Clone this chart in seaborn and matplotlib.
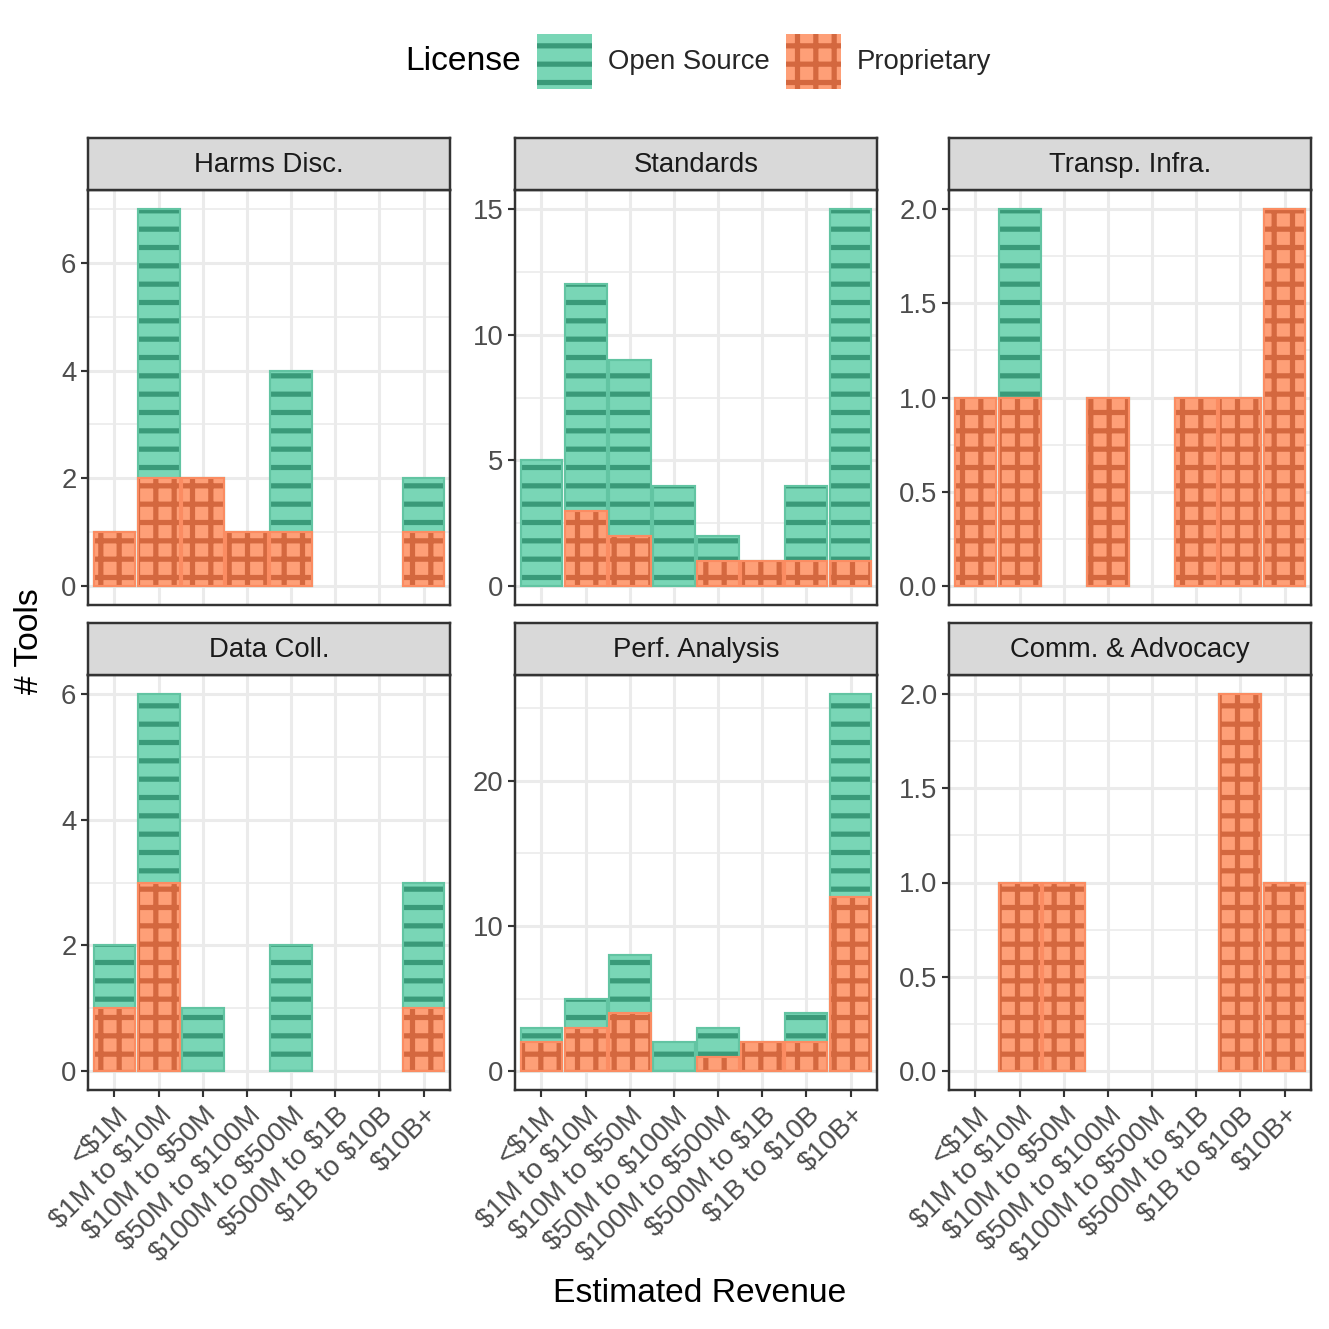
import numpy as np
import pandas as pd
import matplotlib
matplotlib.use("Agg")
import matplotlib.pyplot as plt
import matplotlib.patches as mpatches
from matplotlib.ticker import MultipleLocator, AutoMinorLocator, FormatStrFormatter
import seaborn as sns

# ------------------------------------------------------------
# DATA  (counts; stacked Proprietary + Open Source)
# ------------------------------------------------------------
REVENUE = ["<$1M", "$1M to $10M", "$10M to $50M", "$50M to $100M",
           "$100M to $500M", "$500M to $1B", "$1B to $10B", "$10B+"]

FACETS = ["Harms Disc.", "Standards", "Transp. Infra.",
          "Data Coll.", "Perf. Analysis", "Comm. & Advocacy"]

harms_os = [0, 5, 0, 0, 3, 0, 0, 1]
harms_prop = [1, 2, 2, 1, 1, 0, 0, 1]

standards_os = [5, 9, 7, 4, 1, 0, 3, 14]
standards_prop = [0, 3, 2, 0, 1, 1, 1, 1]

transp_os = [0, 1, 0, 0, 0, 0, 0, 0]
transp_prop = [1, 1, 0, 1, 0, 1, 1, 2]

datacoll_os = [1, 3, 1, 0, 2, 0, 0, 2]
datacoll_prop = [1, 3, 0, 0, 0, 0, 0, 1]

perf_os = [1, 2, 4, 2, 2, 0, 2, 14]
perf_prop = [2, 3, 4, 0, 1, 2, 2, 12]

comm_os = [0, 0, 0, 0, 0, 0, 0, 0]
comm_prop = [0, 1, 1, 0, 0, 0, 2, 1]

Y_STEPS = [2, 5, 0.5, 2, 10, 0.5]

# ------------------------------------------------------------
# STYLE
# ------------------------------------------------------------
OS_FILL, OS_EDGE, OS_HATCH = "#79D6B6", "#62C4A2", "#3A9A79"
PR_FILL, PR_EDGE, PR_HATCH = "#FE9F77", "#FB8C62", "#D4683F"
GRID = "#EBEBEB"
DARK = "#333333"
SMALL = 18
TITLE = 22

sns.set_style("white")
plt.rcParams["font.family"] = ["Liberation Sans", "DejaVu Sans"]
plt.rcParams["hatch.linewidth"] = 3.4

W = H = 1329
DPI = 110
COL_LEFT = [88, 515, 949]
ROW_TOP = [138, 623]
PANEL_W = 362
STRIP_H = 52
PANEL_H = 415
BAR_W = 0.95


def px_rect(left, top, width, height):
    return [left / W, 1 - (top + height) / H, width / W, height / H]


def style_bars(ax, bars, edge, hatch_col, hatch, z):
    for bar in bars:
        if bar.get_height() <= 0:
            bar.set_visible(False)
            continue
        bar.set_hatch(hatch)
        bar.set_edgecolor(hatch_col)
        bar.set_linewidth(0)
        bar.set_zorder(z)
        ax.add_patch(mpatches.Rectangle(
            bar.get_xy(), bar.get_width(), bar.get_height(),
            fill=False, edgecolor=edge, linewidth=1.4, zorder=z + 0.5))


fig = plt.figure(figsize=(W / DPI, H / DPI), dpi=DPI)

panels = list(zip(
    FACETS,
    [harms_os, standards_os, transp_os, datacoll_os, perf_os, comm_os],
    [harms_prop, standards_prop, transp_prop, datacoll_prop, perf_prop, comm_prop],
    Y_STEPS,
))

tick_labels = [c.replace("$", r"\$") for c in REVENUE]

for i, (name, os_vals, prop_vals, step) in enumerate(panels):
    row, col = divmod(i, 3)
    left, top = COL_LEFT[col], ROW_TOP[row]

    ax = fig.add_axes(px_rect(left, top + STRIP_H, PANEL_W, PANEL_H))
    df = pd.DataFrame({
        "revenue": REVENUE,
        "total": np.array(os_vals) + np.array(prop_vals),
        "prop": prop_vals,
    })
    sns.barplot(data=df, x="revenue", y="total", order=REVENUE, color=OS_FILL,
                saturation=1, width=BAR_W, errorbar=None, ax=ax)
    sns.barplot(data=df, x="revenue", y="prop", order=REVENUE, color=PR_FILL,
                saturation=1, width=BAR_W, errorbar=None, ax=ax)
    style_bars(ax, ax.containers[0], OS_EDGE, OS_HATCH, "-", 2)
    style_bars(ax, ax.containers[1], PR_EDGE, PR_HATCH, "+", 3)

    ymax = df["total"].max()
    ax.set_xlim(-0.6, len(REVENUE) - 0.4)
    ax.set_ylim(-0.05 * ymax, 1.05 * ymax)
    ax.yaxis.set_major_locator(MultipleLocator(step))
    ax.yaxis.set_minor_locator(AutoMinorLocator(2))
    if step < 1:
        ax.yaxis.set_major_formatter(FormatStrFormatter("%.1f"))

    ax.set_axisbelow(True)
    ax.grid(which="major", color=GRID, linewidth=2.0)
    ax.grid(which="minor", axis="y", color=GRID, linewidth=1.1)
    for sp in ax.spines.values():
        sp.set_visible(True)
        sp.set_color(DARK)
        sp.set_linewidth(1.6)

    ax.set_xlabel("")
    ax.set_ylabel("")
    ax.tick_params(which="major", length=4.6, width=1.4, color=DARK,
                   labelsize=SMALL, labelcolor="#4D4D4D", pad=3)
    ax.tick_params(which="minor", length=0)
    ax.tick_params(axis="y", left=True)
    ax.set_xticks(range(len(REVENUE)))
    if row == 0:
        ax.tick_params(axis="x", bottom=False, labelbottom=False)
    else:
        ax.tick_params(axis="x", bottom=True)
        ax.set_xticklabels(tick_labels, rotation=45, ha="right", va="top",
                           rotation_mode="anchor")

    # facet strip
    sax = fig.add_axes(px_rect(left, top, PANEL_W, STRIP_H))
    sax.set_facecolor("#D9D9D9")
    sax.set_xticks([])
    sax.set_yticks([])
    for sp in sax.spines.values():
        sp.set_visible(True)
        sp.set_color(DARK)
        sp.set_linewidth(1.6)
    sax.text(0.5, 0.48, name, ha="center", va="center", fontsize=SMALL,
             color="#1A1A1A", transform=sax.transAxes)

# axis titles
fig.text(700 / W, 1 - 1293 / H, "Estimated Revenue", ha="center", va="center",
         fontsize=TITLE, color="black")
fig.text(30 / W, 1 - 641 / H, "# Tools", ha="center", va="center",
         rotation=90, fontsize=TITLE, color="black")

# legend
fig.text(405 / W, 1 - 62 / H, "License", ha="left", va="center",
         fontsize=TITLE, color="black")
handles = [
    mpatches.Patch(facecolor=OS_FILL, edgecolor=OS_HATCH, hatch="-",
                   linewidth=0, label="Open Source"),
    mpatches.Patch(facecolor=PR_FILL, edgecolor=PR_HATCH, hatch="+",
                   linewidth=0, label="Proprietary"),
]
fig.legend(handles=handles, loc="center left",
           bbox_to_anchor=(537 / W, 1 - 61 / H), ncol=2, frameon=False,
           fontsize=SMALL, handlelength=2.0, handleheight=2.7,
           handletextpad=0.58, columnspacing=0.58, borderpad=0,
           borderaxespad=0)

fig.savefig("out.png", dpi=DPI)
